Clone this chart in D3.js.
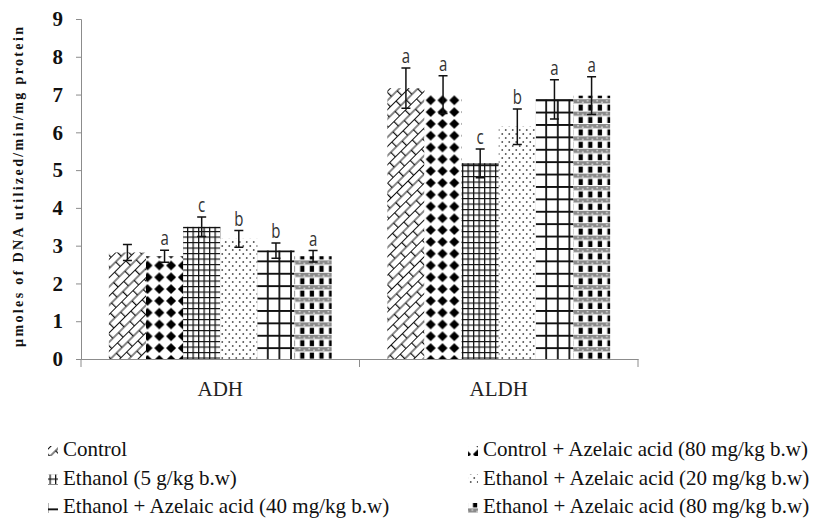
<!DOCTYPE html>
<html>
<head>
<meta charset="utf-8">
<script src="https://cdn.jsdelivr.net/npm/d3@7"></script>
<style>
  body { margin: 0; background: #fff; }
  svg { display: block; }
</style>
</head>
<body>
<svg id="chart" width="823" height="523"></svg>
<script>
const categories = ["ADH", "ALDH"];
const groups = [
  "Control",
  "Control + Azelaic acid (80 mg/kg b.w)",
  "Ethanol (5 g/kg b.w)",
  "Ethanol + Azelaic acid (20 mg/kg b.w)",
  "Ethanol + Azelaic acid (40 mg/kg b.w)",
  "Ethanol + Azelaic acid (80 mg/kg b.w)"
];
const adhValues = [2.82, 2.72, 3.50, 3.18, 2.87, 2.72];
const adhErrors = [0.21, 0.16, 0.26, 0.22, 0.20, 0.15];
const adhLetters = ["", "a", "c", "b", "b", "a"];
const aldhValues = [7.17, 7.00, 5.18, 6.15, 6.87, 6.97];
const aldhErrors = [0.53, 0.50, 0.38, 0.47, 0.52, 0.50];
const aldhLetters = ["a", "a", "c", "b", "a", "a"];
const yTicks = [0, 1, 2, 3, 4, 5, 6, 7, 8, 9];
const yTitle = "µmoles of DNA utilized/min/mg protein";

const values = [adhValues, aldhValues];
const errors = [adhErrors, aldhErrors];
const letters = [adhLetters, aldhLetters];

const svg = d3.select("#chart");
const defs = svg.append("defs");

// ---- patterns ----
const patIds = ["p-brick", "p-diamond", "p-smallgrid", "p-dots", "p-biggrid", "p-checker"];
const gridTop = [false, false, true, false, true, false];

// 1 diagonal brick
let p = defs.append("pattern").attr("id", "p-brick").attr("patternUnits", "userSpaceOnUse")
  .attr("width", 16).attr("height", 13).attr("patternTransform", "rotate(-45)");
p.append("rect").attr("width", 16).attr("height", 13).attr("fill", "#fff");
p.append("path").attr("d", "M0,0.5H16M0,7H16M0.6,0.5V7M8.6,7V13")
  .attr("stroke", "#111").attr("stroke-width", 1.2).attr("fill", "none");

// 2 diamonds
p = defs.append("pattern").attr("id", "p-diamond").attr("patternUnits", "userSpaceOnUse")
  .attr("width", 11.8).attr("height", 11.8);
p.append("rect").attr("width", 11.8).attr("height", 11.8).attr("fill", "#fff");
p.append("path").attr("d", "M5.9,0.9L10.9,5.9L5.9,10.9L0.9,5.9Z").attr("fill", "#000");

// 3 small grid
p = defs.append("pattern").attr("id", "p-smallgrid").attr("patternUnits", "userSpaceOnUse")
  .attr("width", 5.5).attr("height", 5.5);
p.append("rect").attr("width", 5.5).attr("height", 5.5).attr("fill", "#fff");
p.append("path").attr("d", "M0.6,0V5.5M0,0.6H5.5").attr("stroke", "#111").attr("stroke-width", 1.3);

// 4 dots
p = defs.append("pattern").attr("id", "p-dots").attr("patternUnits", "userSpaceOnUse")
  .attr("width", 7).attr("height", 8);
p.append("rect").attr("width", 7).attr("height", 8).attr("fill", "#fff");
p.append("circle").attr("cx", 1.75).attr("cy", 2).attr("r", 0.95).attr("fill", "#555");
p.append("circle").attr("cx", 5.25).attr("cy", 6).attr("r", 0.95).attr("fill", "#555");

// 5 big grid
p = defs.append("pattern").attr("id", "p-biggrid").attr("patternUnits", "userSpaceOnUse")
  .attr("width", 11.6).attr("height", 12.4);
p.append("rect").attr("width", 11.6).attr("height", 12.4).attr("fill", "#fff");
p.append("path").attr("d", "M1,0V12.4M0,1H11.6").attr("stroke", "#111").attr("stroke-width", 1.8);

// 6 checker
p = defs.append("pattern").attr("id", "p-checker").attr("patternUnits", "userSpaceOnUse")
  .attr("width", 9.6).attr("height", 12.4);
p.append("rect").attr("width", 9.6).attr("height", 12.4).attr("fill", "#fff");
p.append("rect").attr("y", 0).attr("width", 9.6).attr("height", 4.2).attr("fill", "#8a8a8a");
p.append("rect").attr("x", 1.2).attr("y", 1).attr("width", 1.6).attr("height", 1.4).attr("fill", "#ddd");
p.append("rect").attr("x", 6).attr("y", 2.4).attr("width", 1.6).attr("height", 1.4).attr("fill", "#ddd");
p.append("rect").attr("x", 2.6).attr("y", 5.4).attr("width", 4.2).attr("height", 6).attr("fill", "#000");

// ---- scales ----
const x0 = d3.scaleBand().domain(categories).range([81, 638]).paddingInner(0).paddingOuter(0);
const x1 = d3.scaleBand().domain(groups).range([0, x0.bandwidth()]).paddingInner(0).paddingOuter(0.75);
const y = d3.scaleLinear().domain([0, 9]).range([359, 19]);

// ---- y axis ----
const yAxis = svg.append("g").attr("transform", "translate(81,0)")
  .call(d3.axisLeft(y).tickValues(yTicks).tickSize(5).tickPadding(13).tickFormat(d3.format("d")));
yAxis.select(".domain").attr("stroke", "#8c8c8c");
yAxis.selectAll(".tick line").attr("stroke", "#8c8c8c");
yAxis.selectAll(".tick text").attr("font-family", "'Liberation Serif', 'Times New Roman', serif")
  .attr("font-size", 21).attr("font-weight", "bold").attr("fill", "#111");

// y title
svg.append("text")
  .attr("transform", `translate(23,${(27 + 347) / 2}) rotate(-90)`)
  .attr("text-anchor", "middle")
  .attr("font-family", "'Liberation Serif', 'Times New Roman', serif")
  .attr("font-size", 14).attr("font-weight", "bold").attr("fill", "#111")
  .attr("textLength", 320).attr("lengthAdjust", "spacing")
  .text(yTitle);

// ---- bars ----
const data = [];
categories.forEach((c, ci) => {
  groups.forEach((g, gi) => {
    data.push({ cat: c, grp: g, gi, v: values[ci][gi], e: errors[ci][gi], l: letters[ci][gi] });
  });
});

const bars = svg.append("g");
bars.selectAll("rect").data(data).enter().append("rect")
  .attr("x", d => x0(d.cat) + x1(d.grp))
  .attr("y", d => y(d.v))
  .attr("width", x1.bandwidth())
  .attr("height", d => y(0) - y(d.v))
  .attr("fill", d => `url(#${patIds[d.gi]})`);
// top edge line on grid-patterned bars
bars.selectAll("line").data(data.filter(d => gridTop[d.gi])).enter().append("line")
  .attr("x1", d => x0(d.cat) + x1(d.grp))
  .attr("x2", d => x0(d.cat) + x1(d.grp) + x1.bandwidth())
  .attr("y1", d => y(d.v) + 0.8).attr("y2", d => y(d.v) + 0.8)
  .attr("stroke", "#111").attr("stroke-width", d => d.gi === 4 ? 1.8 : 1.3);

// ---- x axis ----
const xAxis = svg.append("g").attr("transform", "translate(0,359)")
  .call(d3.axisBottom(x0).tickSize(0).tickPadding(22));
xAxis.select(".domain").attr("stroke", "#8c8c8c");
xAxis.selectAll(".tick text").attr("font-family", "'Liberation Serif', 'Times New Roman', serif")
  .attr("font-size", 21).attr("fill", "#222");
const bounds = [x0.range()[0]].concat(categories.map(c => x0(c) + x0.bandwidth()));
svg.append("g").selectAll("line").data(bounds).enter().append("line")
  .attr("x1", d => d).attr("x2", d => d).attr("y1", 359).attr("y2", 367)
  .attr("stroke", "#8c8c8c");

// ---- error bars ----
const eb = svg.append("g").attr("stroke", "#111").attr("stroke-width", 1.5).attr("fill", "none");
data.forEach(d => {
  const cx = x0(d.cat) + x1(d.grp) + x1.bandwidth() / 2;
  const yt = y(d.v + d.e), yb = y(d.v - d.e);
  eb.append("path").attr("d", `M${cx},${yt}V${yb}M${cx - 4.5},${yt}H${cx + 4.5}M${cx - 4.5},${yb}H${cx + 4.5}`);
});

// ---- significance letters ----
svg.append("g").selectAll("text").data(data.filter(d => d.l)).enter().append("text")
  .attr("transform", d => {
    const cx = x0(d.cat) + x1(d.grp) + x1.bandwidth() / 2;
    return `translate(${cx},${y(d.v + d.e) - 5}) scale(1,1.35)`;
  })
  .attr("text-anchor", "middle")
  .attr("font-family", "'Open Sans', 'Liberation Sans', sans-serif")
  .attr("font-size", 15).attr("fill", "#333")
  .text(d => d.l);

// ---- legend ----
const legendRows = [456, 484.5, 513];
const legendCols = [48, 468];
const lg = svg.append("g");
groups.forEach((g, i) => {
  const col = i % 2, row = Math.floor(i / 2);
  const lx = legendCols[col], ly = legendRows[row];
  lg.append("rect").attr("x", lx).attr("y", ly - 10).attr("width", 10).attr("height", 10)
    .attr("fill", `url(#${patIds[i]})`);
  lg.append("text").attr("x", lx + 15).attr("y", ly)
    .attr("font-family", "'Liberation Serif', 'Times New Roman', serif")
    .attr("font-size", 21).attr("fill", "#111")
    .text(g);
});
</script>
</body>
</html>
